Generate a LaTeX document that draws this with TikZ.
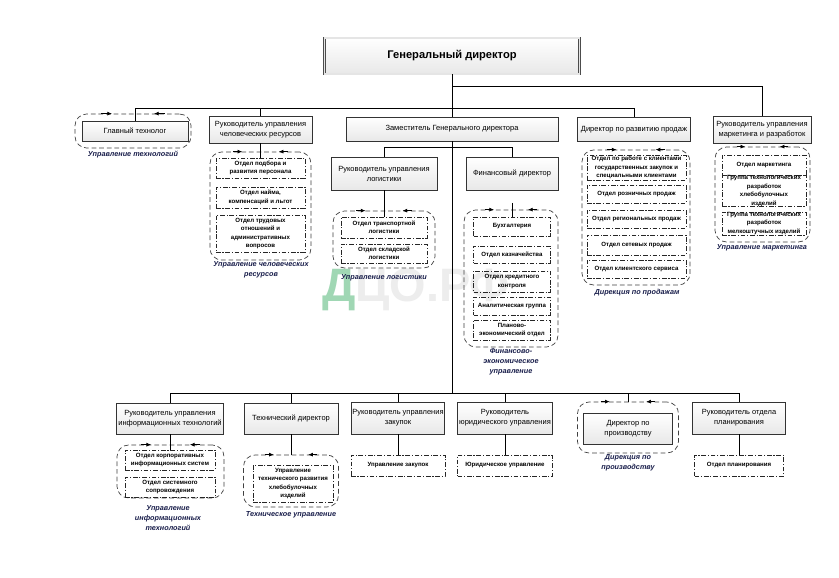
\documentclass[tikz,border=0pt]{standalone}
\usepackage{fontspec}
\setmainfont{Liberation Sans}
\usetikzlibrary{shadows,arrows.meta,calc}
\definecolor{podpiscolor}{RGB}{25,30,75}
\definecolor{znakcolor}{RGB}{160,215,180}

\begin{document}
\begin{tikzpicture}[
            x=0.3mm, y=-0.3mm,
            razm/.style 2 args={minimum width=#1*0.3mm, minimum height=#2*0.3mm},
            ruk/.style={draw=black!80, top color=white, bottom color=gray!18, align=center, inner sep=0pt,
                font=\fontsize{6.4}{8.5}\selectfont,
                drop shadow={shadow xshift=0.8pt, shadow yshift=-0.8pt, fill=gray!55, opacity=1}},
            glavnyi/.style={ruk, draw=black!70, double=gray!20, double distance=1.4pt,
                font=\fontsize{9.5}{11}\selectfont\bfseries},
            otdel/.style={draw=black!85, dash pattern=on 4pt off 1.5pt on 1pt off 1.5pt, align=center,
                inner sep=0pt, font=\fontsize{5.2}{7.2}\selectfont\bfseries},
            gruppa/.style={draw=black!75, dash pattern=on 4pt off 2.5pt, rounded corners=3.5mm, line width=0.6pt},
            podpis/.style={align=center, inner sep=0pt, text=podpiscolor,
                font=\fontsize{6.2}{8.6}\selectfont\bfseries\itshape},
            liniya/.style={line width=0.6pt},
            strelka/.style={line width=0.6pt, -{Latex[length=4pt, width=3.4pt]}},
        ]
        \useasboundingbox (0,0) rectangle (839,578);
        \fill[white] (0,0) rectangle (839,578);

        % watermark
        \node[inner sep=0pt, font=\fontsize{40}{40}\selectfont\bfseries] (znak) at (416,290)
            {\textcolor{znakcolor}{Д}\textcolor{gray!14}{ЦО.РФ}};

        % groups
        \node[gruppa, razm={116}{34}] (grpGlt) at (133,131) {};
        \node[gruppa, razm={101}{108}] (grpHR) at (260.5,206) {};
        \node[gruppa, razm={102}{57}] (grpLog) at (384,239.5) {};
        \node[gruppa, razm={94}{137}] (grpFin) at (511,278.5) {};
        \node[gruppa, razm={108}{135}] (grpSales) at (636,217.5) {};
        \node[gruppa, razm={95}{95}] (grpMark) at (762.5,194.5) {};
        \node[gruppa, razm={107}{53}] (grpIT) at (170.5,471.5) {};
        \node[gruppa, razm={95}{52}] (grpTechU) at (291,481) {};
        \node[gruppa, razm={101}{51}] (grpProizv) at (628,427.5) {};

        % top
        \node[glavnyi, razm={255}{36}] (gd) at (452,56) {Генеральный директор};
        \node[ruk, razm={106}{20}] (gltech) at (135,131) {Главный технолог};
        \node[ruk, razm={103}{27}] (hr) at (260.5,129.5) {Руководитель управления\\человеческих ресурсов};
        \node[ruk, razm={212}{24}] (zam) at (452,129) {Заместитель Генерального директора};
        \node[ruk, razm={113}{24}] (sales) at (634,129.5) {Директор по развитию продаж};
        \node[ruk, razm={98}{27}] (mark) at (762,129.5) {Руководитель управления\\маркетинга и разработок};
        \node[ruk, razm={106}{33}] (log) at (384,173.5) {Руководитель управления\\логистики};
        \node[ruk, razm={92}{33}] (fin) at (512,173.5) {Финансовый директор};

        \node[otdel, razm={89}{20}] (hr1) at (260.5,168) {Отдел подбора и\\развития персонала};
        \node[otdel, razm={89}{21}] (hr2) at (260.5,197.5) {Отдел найма,\\компенсаций и льгот};
        \node[otdel, razm={89}{37}] (hr3) at (260.5,233.5) {Отдел трудовых\\отношений и\\административных\\вопросов};

        \node[otdel, razm={86}{21}] (lg1) at (384,227.5) {Отдел транспортной\\логистики};
        \node[otdel, razm={86}{19}] (lg2) at (384,253.5) {Отдел складской\\логистики};

        \node[otdel, razm={77}{19}] (f1) at (512,226.5) {Бухгалтерия};
        \node[otdel, razm={77}{17}] (f2) at (512,254.5) {Отдел казначейства};
        \node[otdel, razm={77}{21}] (f3) at (512,281.5) {Отдел кредитного\\контроля};
        \node[otdel, razm={77}{18}] (f4) at (512,306) {Аналитическая группа};
        \node[otdel, razm={77}{20}] (f5) at (512,330) {Планово-\\экономический отдел};

        \node[otdel, razm={99}{25}] (s1) at (636.5,167.5) {Отдел по работе с клиентами\\государственных закупок и\\специальными клиентами};
        \node[otdel, razm={99}{18}] (s2) at (636.5,194) {Отдел розничных продаж};
        \node[otdel, razm={99}{18}] (s3) at (636.5,219) {Отдел региональных продаж};
        \node[otdel, razm={99}{20}] (s4) at (636.5,245) {Отдел сетевых продаж};
        \node[otdel, razm={99}{18}] (s5) at (636.5,269) {Отдел клиентского сервиса};

        \node[otdel, razm={84}{20}] (m1) at (764,165) {Отдел маркетинга};
        \node[otdel, razm={84}{28}] (m2) at (764,191) {Группа технологических\\разработок\\хлебобулочных\\изделий};
        \node[otdel, razm={84}{23}] (m3) at (764,223.5) {Группа технологических\\разработок\\мелкоштучных изделий};

        \node[podpis] (lblGlt) at (133,155) {Управление технологий};
        \node[podpis] (lblHR) at (261,270) {Управление человеческих\\ресурсов};
        \node[podpis] (lblLog) at (384,278) {Управление логистики};
        \node[podpis] (lblFin) at (511,362) {Финансово-\\экономическое\\управление};
        \node[podpis] (lblSales) at (637,293) {Дирекция по продажам};
        \node[podpis] (lblMark) at (762,248) {Управление маркетинга};

        % bottom
        \node[ruk, razm={107}{31}] (it) at (170,418.5) {Руководитель управления\\информационных технологий};
        \node[ruk, razm={94}{31}] (tech) at (291,418.5) {Технический директор};
        \node[ruk, razm={93}{32}] (zak) at (398,418) {Руководитель управления\\закупок};
        \node[ruk, razm={95}{32}] (jur) at (505,418) {Руководитель\\юридического управления};
        \node[ruk, razm={89}{31}] (proizv) at (628,428.5) {Директор по\\производству};
        \node[ruk, razm={93}{32}] (plan) at (739,418) {Руководитель отдела\\планирования};

        \node[otdel, razm={90}{20}] (it1) at (170,460) {Отдел корпоративных\\информационных систем};
        \node[otdel, razm={90}{20}] (it2) at (170,487) {Отдел системного\\сопровождения};
        \node[otdel, razm={80}{37}] (techU1) at (293,483.5) {Управление\\технического развития\\хлебобулочных\\изделий};
        \node[otdel, razm={94}{21}] (zak1) at (398,465.5) {Управление закупок};
        \node[otdel, razm={95}{21}] (jur1) at (505,465.5) {Юридическое управление};
        \node[otdel, razm={89}{21}] (plan1) at (739,465.5) {Отдел планирования};

        \node[podpis] (lblIT) at (168,518) {Управление\\информационных\\технологий};
        \node[podpis] (lblTech) at (291,515) {Техническое управление};
        \node[podpis] (lblProizv) at (628,463) {Дирекция по\\производству};

        % connectors
        \coordinate (v86) at (452,86);
        \coordinate (v108) at (452,108);
        \coordinate (v147) at (452,147);
        \coordinate (v393) at (452,393);
        \coordinate (finTop) at (512,203);

        \draw[liniya] (gd) -- (zam);
        \draw[liniya] (zam) -- (v393);
        \draw[liniya] (v86) -| (mark);
        \draw[liniya] (v108) -| (gltech);
        \draw[liniya] (v108) -| (hr);
        \draw[liniya] (v108) -| (sales);
        \draw[liniya] (v147) -| (log);
        \draw[liniya] (v147) -| (fin);
        \draw[liniya] (v393) -| (it);
        \draw[liniya] (v393) -| (tech);
        \draw[liniya] (v393) -| (zak);
        \draw[liniya] (v393) -| (jur);
        \draw[liniya] (v393) -| (grpProizv);
        \draw[liniya] (v393) -| (plan);

        \draw[liniya] (hr) -- (hr1);
        \draw[liniya] (log) -- (lg1);
        \draw[liniya] (finTop) -- (f1);
        \draw[liniya] (it) -- (it1);
        \draw[liniya] (tech) -- (grpTechU);
        \draw[liniya] (zak) -- (zak1);
        \draw[liniya] (jur) -- (jur1);
        \draw[liniya] (plan) -- (plan1);

        \foreach \g in {grpGlt, grpHR, grpLog, grpFin, grpSales, grpMark, grpIT, grpTechU, grpProizv} {
            \draw[strelka] ($(\g.north west)!0.23!(\g.north east)$) -- ($(\g.north west)!0.32!(\g.north east)$);
            \draw[strelka] ($(\g.north west)!0.77!(\g.north east)$) -- ($(\g.north west)!0.68!(\g.north east)$);
        }

    \end{tikzpicture}
\end{document}
